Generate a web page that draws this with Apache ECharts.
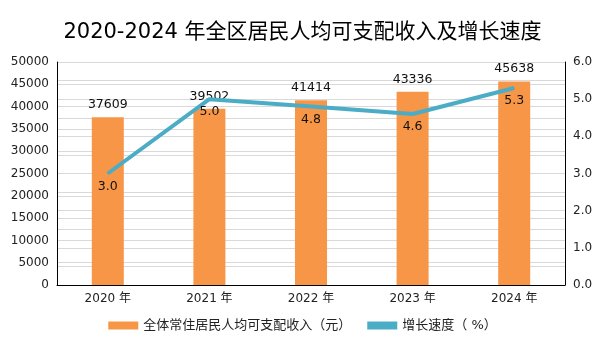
<!DOCTYPE html>
<html><head><meta charset="utf-8">
<script src="https://cdn.jsdelivr.net/npm/echarts@6/dist/echarts.min.js"></script>
<style>html,body{margin:0;padding:0;background:#fff}#c{width:605px;height:340px}</style>
</head><body><div id="c"></div>
<script>
var categories = ['2020年','2021年','2022年','2023年','2024年'];
var incomeValues = [37609, 39502, 41414, 43336, 45638];
var growthValues = [3.0, 5.0, 4.8, 4.6, 5.3];
var leftTicks = [0, 50000, 5000];
var rightTicks = [0, 6, 1];
var titleText = '2020-2024 年全区居民人均可支配收入及增长速度';
var seriesNames = ['全体常住居民人均可支配收入（元）', '增长速度（ %）'];

var font = '"DejaVu Sans", "Noto Sans CJK SC", sans-serif';
var chart = echarts.init(document.getElementById('c'), null, {renderer:'canvas'});
chart.setOption({
  animation:false,
  title:{text:titleText,left:'center',top:17,textStyle:{fontSize:21,fontWeight:'normal',color:'#000',fontFamily:font}},
  legend:{bottom:3,left:'center',itemWidth:30,itemHeight:8,itemGap:16,textStyle:{fontSize:13,color:'#222',fontFamily:font},
    data:[{name:seriesNames[0],icon:'rect'},{name:seriesNames[1],icon:'rect'}]},
  grid:{left:57,right:40,top:62,bottom:55},
  xAxis:{type:'category',data:categories,axisLine:{lineStyle:{color:'#000'}},axisTick:{show:false},
    axisLabel:{fontSize:12,color:'#222',fontFamily:font,formatter:function(v){return v.replace('年',' 年');}}},
  yAxis:[
    {type:'value',min:leftTicks[0],max:leftTicks[1],interval:leftTicks[2],axisLine:{show:true,lineStyle:{color:'#000'}},axisTick:{show:false},
      axisLabel:{fontSize:12,color:'#222',fontFamily:font,formatter:function(v){return String(v);}},splitLine:{lineStyle:{color:'#d9d9d9'}}},
    {type:'value',min:rightTicks[0],max:rightTicks[1],interval:rightTicks[2],position:'right',axisLine:{show:true,lineStyle:{color:'#000'}},axisTick:{show:false},
      axisLabel:{fontSize:12,color:'#222',fontFamily:font,formatter:function(v){return v.toFixed(1);}},
      minorTick:{show:false,splitNumber:2},minorSplitLine:{show:true,lineStyle:{color:'#d9d9d9'}},splitLine:{show:true,lineStyle:{color:'#d9d9d9'}}}
  ],
  series:[
    {name:seriesNames[0],type:'bar',data:incomeValues,barWidth:32,itemStyle:{color:'#F79646'},
      label:{show:true,position:'top',distance:6,fontSize:12.5,color:'#111',fontFamily:font}},
    {name:seriesNames[1],type:'line',yAxisIndex:1,data:growthValues,symbol:'circle',symbolSize:1,
      lineStyle:{color:'#4BACC6',width:4},itemStyle:{color:'#4BACC6'},
      label:{show:true,position:'bottom',distance:6,fontSize:12.5,color:'#111',fontFamily:font,formatter:function(p){return p.value.toFixed(1);}}}
  ]
});
</script></body></html>
